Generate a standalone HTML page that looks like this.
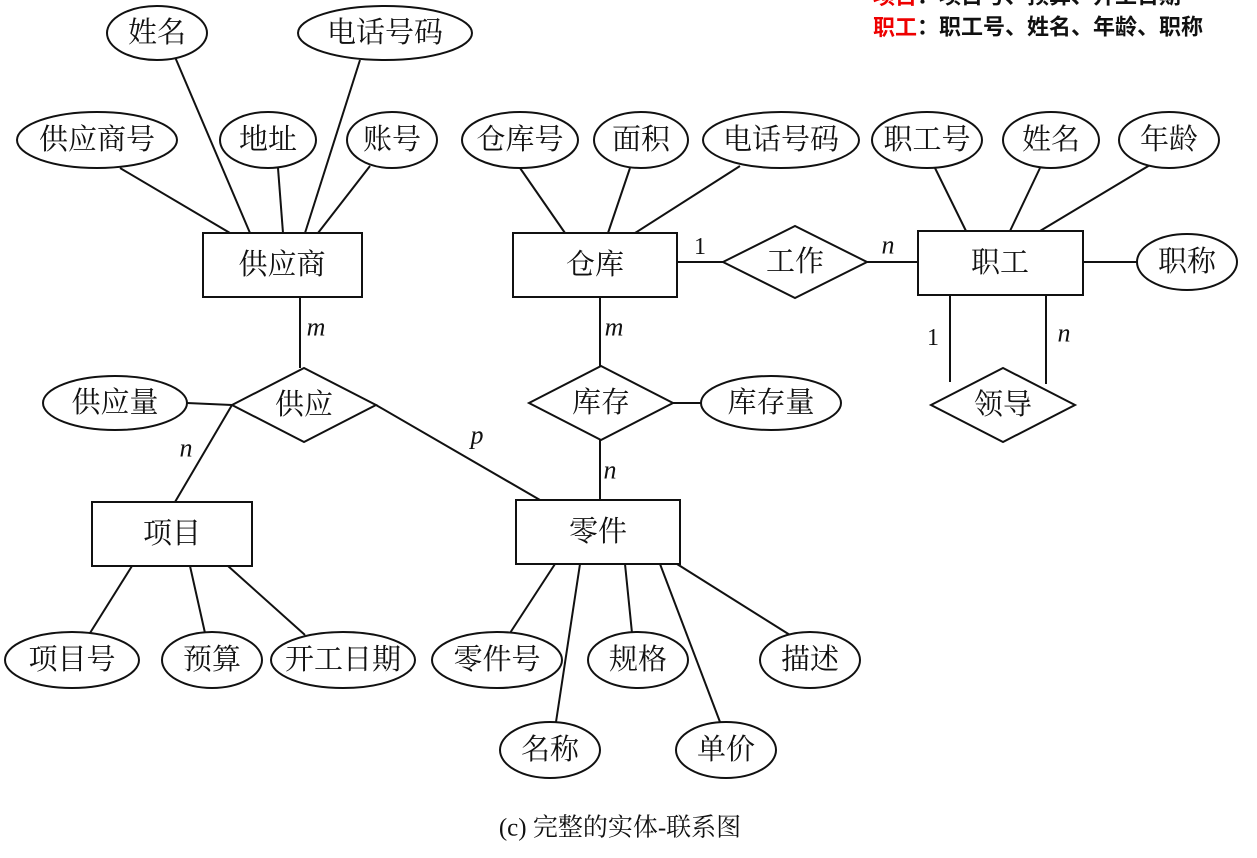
<!DOCTYPE html>
<html><head><meta charset="utf-8"><style>
html,body{margin:0;padding:0;background:#fff;width:1257px;height:858px;overflow:hidden}
svg{display:block}
text{font-family:"Liberation Serif","Noto Serif CJK SC","Noto Sans CJK SC",serif;font-size:29px;fill:#111;stroke:none;text-anchor:middle;dominant-baseline:central}
.i{font-style:italic;font-size:26px}
.h{font-family:"Liberation Sans","Noto Sans CJK SC",sans-serif;font-weight:bold;font-size:22px;text-anchor:start}
</style></head><body>
<svg width="1257" height="858" viewBox="0 0 1257 858" stroke="#111" stroke-width="2" fill="#fff">
<g stroke-width="2">
<line x1="300" y1="297" x2="300" y2="368"/>
<line x1="232" y1="405" x2="187" y2="403"/>
<line x1="232" y1="405" x2="175" y2="502"/>
<line x1="376" y1="405" x2="540" y2="500"/>
<line x1="600" y1="297" x2="600" y2="366"/>
<line x1="600" y1="440" x2="600" y2="500"/>
<line x1="673" y1="403" x2="701" y2="403"/>
<line x1="677" y1="262" x2="723" y2="262"/>
<line x1="867" y1="262" x2="918" y2="262"/>
<line x1="1083" y1="262" x2="1137" y2="262"/>
<line x1="950" y1="295" x2="950" y2="382"/>
<line x1="1046" y1="295" x2="1046" y2="384"/>
<line x1="175" y1="57" x2="250" y2="233"/>
<line x1="360" y1="60" x2="305" y2="233"/>
<line x1="120" y1="168" x2="230" y2="233"/>
<line x1="278" y1="168" x2="283" y2="233"/>
<line x1="370" y1="166" x2="318" y2="233"/>
<line x1="520" y1="168" x2="565" y2="233"/>
<line x1="630" y1="168" x2="608" y2="233"/>
<line x1="740" y1="166" x2="635" y2="233"/>
<line x1="935" y1="168" x2="966" y2="231"/>
<line x1="1040" y1="168" x2="1010" y2="231"/>
<line x1="1150" y1="165" x2="1040" y2="231"/>
<line x1="132" y1="566" x2="90" y2="633"/>
<line x1="190" y1="566" x2="205" y2="633"/>
<line x1="228" y1="566" x2="305" y2="635"/>
<line x1="555" y1="564" x2="510" y2="633"/>
<line x1="580" y1="564" x2="556" y2="722"/>
<line x1="625" y1="564" x2="632" y2="633"/>
<line x1="660" y1="564" x2="720" y2="722"/>
<line x1="677" y1="564" x2="790" y2="635"/>
</g>
<ellipse cx="157" cy="33" rx="50" ry="27"/><text x="157" y="33">姓名</text>
<ellipse cx="385" cy="33" rx="87" ry="27"/><text x="385" y="33">电话号码</text>
<ellipse cx="97" cy="140" rx="80" ry="28"/><text x="97" y="140">供应商号</text>
<ellipse cx="268" cy="140" rx="48" ry="28"/><text x="268" y="140">地址</text>
<ellipse cx="392" cy="140" rx="45" ry="28"/><text x="392" y="140">账号</text>
<ellipse cx="520" cy="140" rx="58" ry="28"/><text x="520" y="140">仓库号</text>
<ellipse cx="641" cy="140" rx="47" ry="28"/><text x="641" y="140">面积</text>
<ellipse cx="781" cy="140" rx="78" ry="28"/><text x="781" y="140">电话号码</text>
<ellipse cx="927" cy="140" rx="55" ry="28"/><text x="927" y="140">职工号</text>
<ellipse cx="1051" cy="140" rx="48" ry="28"/><text x="1051" y="140">姓名</text>
<ellipse cx="1169" cy="140" rx="50" ry="28"/><text x="1169" y="140">年龄</text>
<ellipse cx="1187" cy="262" rx="50" ry="28"/><text x="1187" y="262">职称</text>
<ellipse cx="115" cy="403" rx="72" ry="27"/><text x="115" y="403">供应量</text>
<ellipse cx="771" cy="403" rx="70" ry="27"/><text x="771" y="403">库存量</text>
<ellipse cx="72" cy="660" rx="67" ry="28"/><text x="72" y="660">项目号</text>
<ellipse cx="212" cy="660" rx="50" ry="28"/><text x="212" y="660">预算</text>
<ellipse cx="343" cy="660" rx="72" ry="28"/><text x="343" y="660">开工日期</text>
<ellipse cx="497" cy="660" rx="65" ry="28"/><text x="497" y="660">零件号</text>
<ellipse cx="638" cy="660" rx="50" ry="28"/><text x="638" y="660">规格</text>
<ellipse cx="810" cy="660" rx="50" ry="28"/><text x="810" y="660">描述</text>
<ellipse cx="550" cy="750" rx="50" ry="28"/><text x="550" y="750">名称</text>
<ellipse cx="726" cy="750" rx="50" ry="28"/><text x="726" y="750">单价</text>
<rect x="203" y="233" width="159" height="64"/><text x="282" y="265">供应商</text>
<rect x="513" y="233" width="164" height="64"/><text x="595" y="265">仓库</text>
<rect x="918" y="231" width="165" height="64"/><text x="1000" y="263">职工</text>
<rect x="92" y="502" width="160" height="64"/><text x="172" y="534">项目</text>
<rect x="516" y="500" width="164" height="64"/><text x="598" y="532">零件</text>
<polygon points="723,262 795,226 867,262 795,298"/><text x="795" y="262">工作</text>
<polygon points="232,405 304,368 376,405 304,442"/><text x="304" y="405">供应</text>
<polygon points="529,403 601,366 673,403 601,440"/><text x="601" y="403">库存</text>
<polygon points="931,405 1003,368 1075,405 1003,442"/><text x="1003" y="405">领导</text>
<g stroke="none" fill="#111">
<text class="i" x="316" y="327">m</text>
<text class="i" x="186" y="448">n</text>
<text class="i" x="477" y="435">p</text>
<text class="i" x="614" y="327">m</text>
<text class="i" x="610" y="470">n</text>
<text x="700" y="247" style="font-size:24px">1</text>
<text class="i" x="888" y="245">n</text>
<text x="933" y="338" style="font-size:24px">1</text>
<text class="i" x="1064" y="333">n</text>
<text x="620" y="828" style="font-size:25px">(c)  完整的实体-联系图</text>
<text class="h" x="873" y="-4"><tspan fill="#e00">项目</tspan>：项目号、预算、开工日期</text>
<text class="h" x="873" y="27"><tspan fill="#e00">职工</tspan>：职工号、姓名、年龄、职称</text>
</g>
</svg>
</body></html>
